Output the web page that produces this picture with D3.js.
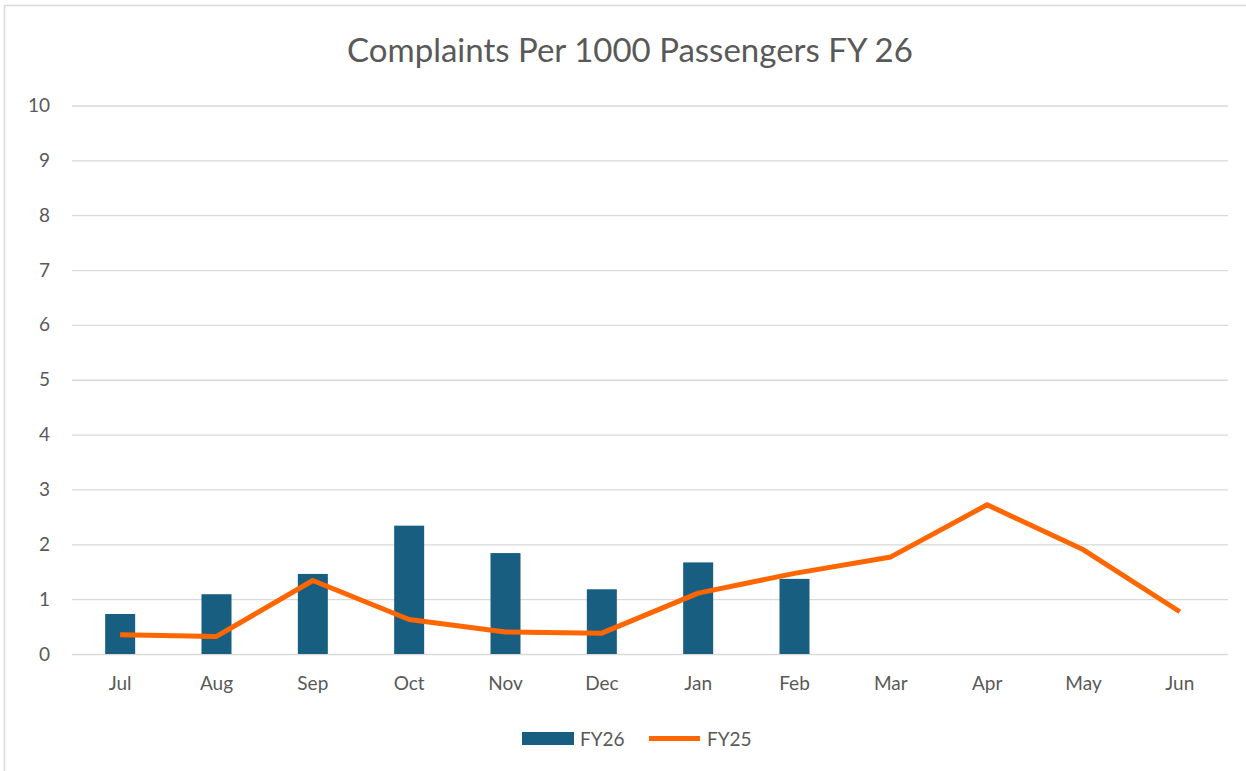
<!DOCTYPE html>
<html>
<head>
<meta charset="utf-8">
<script src="https://cdn.jsdelivr.net/npm/d3@7"></script>
<style>
  body { margin: 0; background: #fff; }
  text { font-family: Lato, "Open Sans", sans-serif; fill: #595959; }
</style>
</head>
<body>
<div id="container"></div>
<script>
/* DATA */
const months = ["Jul", "Aug", "Sep", "Oct", "Nov", "Dec", "Jan", "Feb", "Mar", "Apr", "May", "Jun"];
const fy26 = [0.73, 1.09, 1.46, 2.34, 1.84, 1.18, 1.67, 1.37];
const fy25 = [0.35, 0.32, 1.34, 0.63, 0.40, 0.38, 1.11, 1.47, 1.77, 2.72, 1.90, 0.77];
const yTicks = [0, 1, 2, 3, 4, 5, 6, 7, 8, 9, 10];

const width = 1246,
      height = 771,
      plotLeft = 72,
      plotRight = 1228,
      plotTop = 105.5,
      plotBottom = 654;

const svg = d3.select("#container")
  .append("svg")
  .attr("width", width)
  .attr("height", height);

// chart frame
svg.append("rect")
  .attr("x", 4.5).attr("y", 5.5)
  .attr("width", width).attr("height", height)
  .attr("fill", "none")
  .attr("stroke", "#d9d9d9")
  .attr("stroke-width", 1.5);

svg.append("text")
  .attr("x", 630).attr("y", 62)
  .attr("text-anchor", "middle")
  .style("font-size", "33px")
  .text("Complaints Per 1000 Passengers FY 26");

const xScale = d3.scaleBand()
  .domain(months)
  .range([plotLeft, plotRight]);

const yScale = d3.scaleLinear()
  .domain([0, 10])
  .range([plotBottom, plotTop]);

// gridlines + y labels
const yAxis = d3.axisLeft(yScale)
  .tickValues(yTicks)
  .tickSize(-(plotRight - plotLeft))
  .tickPadding(22);

const gy = svg.append("g")
  .attr("transform", "translate(" + plotLeft + ",0)")
  .call(yAxis);
gy.select(".domain").remove();
gy.selectAll(".tick line").attr("stroke", "#d9d9d9").attr("stroke-width", 1.3);
gy.selectAll(".tick text").style("font-size", "19px").attr("fill", "#595959");

// x labels
const xAxis = d3.axisBottom(xScale).tickSize(0).tickPadding(23);
const gx = svg.append("g")
  .attr("transform", "translate(0," + plotBottom + ")")
  .call(xAxis);
gx.select(".domain").remove();
gx.selectAll(".tick text").style("font-size", "19px").attr("fill", "#595959");

// bars
const barW = 30;
svg.append("g")
  .selectAll("rect")
  .data(fy26)
  .enter().append("rect")
  .attr("x", (d, i) => xScale(months[i]) + xScale.bandwidth() / 2 - barW / 2)
  .attr("y", d => yScale(d))
  .attr("width", barW)
  .attr("height", d => plotBottom - yScale(d))
  .attr("fill", "#185e80");

// line
const line = d3.line()
  .x((d, i) => xScale(months[i]) + xScale.bandwidth() / 2)
  .y(d => yScale(d));

svg.append("path")
  .datum(fy25)
  .attr("d", line)
  .attr("fill", "none")
  .attr("stroke", "#ff6600")
  .attr("stroke-width", 5)
  .attr("stroke-linejoin", "round");

// legend
const legend = svg.append("g");
legend.append("rect")
  .attr("x", 522).attr("y", 732)
  .attr("width", 52).attr("height", 13)
  .attr("fill", "#185e80");
legend.append("text")
  .attr("x", 580).attr("y", 746)
  .style("font-size", "19px")
  .text("FY26");
legend.append("line")
  .attr("x1", 649).attr("x2", 700)
  .attr("y1", 738.5).attr("y2", 738.5)
  .attr("stroke", "#ff6600")
  .attr("stroke-width", 5);
legend.append("text")
  .attr("x", 707).attr("y", 746)
  .style("font-size", "19px")
  .text("FY25");
</script>
</body>
</html>
